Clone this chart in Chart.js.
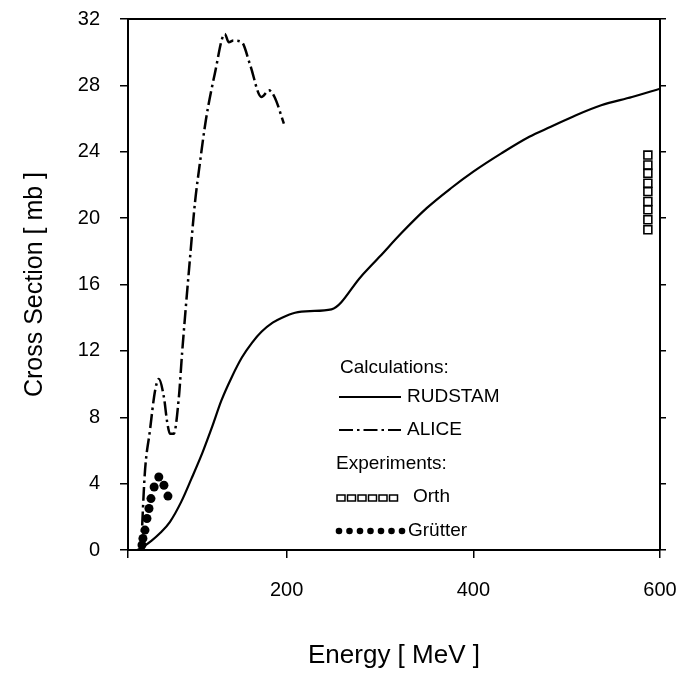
<!DOCTYPE html>
<html>
<head>
<meta charset="utf-8">
<script src="https://cdn.jsdelivr.net/npm/chart.js@4/dist/chart.umd.min.js"></script>
<style>
  html, body { margin: 0; padding: 0; background: #fff; }
</style>
</head>
<body>
<canvas id="crossSection" width="679" height="676"></canvas>
<script>
// energies in MeV, cross sections in mb
var rudstamE  = [40, 45, 55, 65, 75, 87, 98, 110, 120, 130, 141, 152, 163, 173, 185, 195, 209, 225, 248, 280, 300, 323, 350, 376, 400, 430, 460, 483, 510, 537, 570, 600];
var rudstamXS = [0, 0.15, 0.55, 1.05, 1.7, 2.9, 4.3, 5.9, 7.4, 9.0, 10.4, 11.6, 12.5, 13.15, 13.7, 14.0, 14.3, 14.4, 14.5, 16.5, 17.7, 19.1, 20.6, 21.8, 22.8, 23.9, 24.9, 25.5, 26.2, 26.8, 27.3, 27.8];

var aliceE  = [44, 48, 53.5, 59, 63, 68.5, 72, 75, 79, 84.5, 88, 96, 101.7, 107, 113.4, 123, 133.7, 138, 143, 152, 160.5, 173, 181, 187, 197];
var aliceXS = [0, 4.6, 7.2, 9.6, 10.3, 9.2, 7.7, 7.0, 7.0, 9.2, 11.9, 17.3, 20.9, 23.3, 25.9, 28.7, 31.1, 30.6, 30.7, 30.6, 29.3, 27.3, 27.7, 27.3, 25.7];

var orthE  = [587, 587, 587, 587, 587, 587, 587, 587, 587];
var orthXS = [23.8, 23.2, 22.7, 22.1, 21.6, 21.0, 20.5, 19.9, 19.3];

var grutterE  = [45, 46, 48.2, 50.3, 52.5, 54.6, 58, 63, 68.5, 72.8];
var grutterXS = [0.3, 0.7, 1.2, 1.9, 2.5, 3.1, 3.8, 4.4, 3.9, 3.25];

var xTicks = [30, 200, 400, 600];

var FONT = "'Liberation Sans', Arial, sans-serif";

function pts(xs, ys) {
  return xs.map(function (x, i) { return {x: x, y: ys[i]}; });
}

// legend drawn inside the plot, lower right
var legendBox = {
  id: 'legendBox',
  afterDatasetsDraw: function (chart) {
    var c = chart.ctx;
    c.save();
    c.fillStyle = '#000';
    c.strokeStyle = '#000';
    c.font = '19px ' + FONT;
    c.textBaseline = 'middle';
    c.textAlign = 'left';

    c.fillText('Calculations:', 340, 368);

    c.lineWidth = 2;
    c.beginPath(); c.moveTo(339, 397); c.lineTo(401, 397); c.stroke();
    c.fillText('RUDSTAM', 407, 397);

    c.setLineDash([14, 4, 2.5, 4]);
    c.beginPath(); c.moveTo(339, 430); c.lineTo(401, 430); c.stroke();
    c.setLineDash([]);
    c.fillText('ALICE', 407, 430);

    c.fillText('Experiments:', 336, 464);

    c.lineWidth = 1.5;
    for (var i = 0; i < 6; i++) {
      c.strokeRect(337 + i * 10.5, 495, 8, 6);
    }
    c.fillText('Orth', 413, 497);

    for (var j = 0; j < 7; j++) {
      c.beginPath(); c.arc(339 + j * 10.5, 531, 3.3, 0, Math.PI * 2); c.fill();
    }
    c.fillText('Grütter', 408, 531);
    c.restore();
  }
};

function noPadY(s, w) { s.width = w; s.paddingTop = 0; s.paddingBottom = 0; }

new Chart("crossSection", {
  type: "scatter",
  data: {
    datasets: [{
      label: "RUDSTAM",
      data: pts(rudstamE, rudstamXS),
      showLine: true,
      borderColor: "#000",
      borderWidth: 2.2,
      pointRadius: 0,
      cubicInterpolationMode: "monotone"
    }, {
      label: "ALICE",
      data: pts(aliceE, aliceXS),
      showLine: true,
      borderColor: "#000",
      borderWidth: 2.5,
      borderDash: [14, 4, 2.5, 4],
      pointRadius: 0,
      cubicInterpolationMode: "monotone"
    }, {
      label: "Orth",
      data: pts(orthE, orthXS),
      pointStyle: "rect",
      pointRadius: 5.6,
      backgroundColor: "#fff",
      borderColor: "#000",
      borderWidth: 1.6
    }, {
      label: "Grütter",
      data: pts(grutterE, grutterXS),
      pointStyle: "circle",
      pointRadius: 4.5,
      backgroundColor: "#000",
      borderColor: "#000",
      borderWidth: 0
    }]
  },
  options: {
    responsive: false,
    animation: false,
    layout: {padding: {top: 19, left: 0, right: 0, bottom: 0}},
    plugins: {
      legend: {display: false},
      tooltip: {enabled: false}
    },
    scales: {
      x: {
        type: "linear",
        position: "bottom",
        min: 30,
        max: 600,
        afterBuildTicks: function (s) { s.ticks = xTicks.map(function (v) { return {value: v}; }); },
        afterFit: function (s) { s.height = 126; s.paddingLeft = 0; s.paddingRight = 0; },
        ticks: {
          color: "#000",
          font: {family: FONT, size: 20},
          padding: 20,
          callback: function (v) { return v === 30 ? "" : v; }
        },
        grid: {drawOnChartArea: false, tickLength: 8, color: "#000", lineWidth: 1.5},
        border: {color: "#000", width: 2},
        title: {
          display: true,
          text: "Energy [ MeV ]",
          color: "#000",
          font: {family: FONT, size: 26},
          padding: {top: 5, bottom: 5}
        }
      },
      x2: {
        type: "linear",
        position: "top",
        min: 30,
        max: 600,
        afterFit: function (s) { s.height = 0; s.paddingLeft = 0; s.paddingRight = 0; },
        ticks: {display: false},
        grid: {drawOnChartArea: false, drawTicks: false},
        border: {color: "#000", width: 2}
      },
      y: {
        position: "left",
        min: 0,
        max: 32,
        afterFit: function (s) { noPadY(s, 128); },
        ticks: {
          stepSize: 4,
          color: "#000",
          font: {family: FONT, size: 20},
          padding: 20
        },
        grid: {drawOnChartArea: false, tickLength: 8, color: "#000", lineWidth: 1.5},
        border: {color: "#000", width: 2},
        title: {
          display: true,
          text: "Cross Section [ mb ]",
          color: "#000",
          font: {family: FONT, size: 25},
          padding: {top: 20, bottom: 20}
        }
      },
      y2: {
        position: "right",
        min: 0,
        max: 32,
        afterFit: function (s) { noPadY(s, 19); },
        ticks: {stepSize: 4, display: false},
        grid: {drawOnChartArea: false, tickLength: 6, color: "#000", lineWidth: 1.5},
        border: {color: "#000", width: 2}
      }
    }
  },
  plugins: [legendBox]
});
</script>
</body>
</html>
